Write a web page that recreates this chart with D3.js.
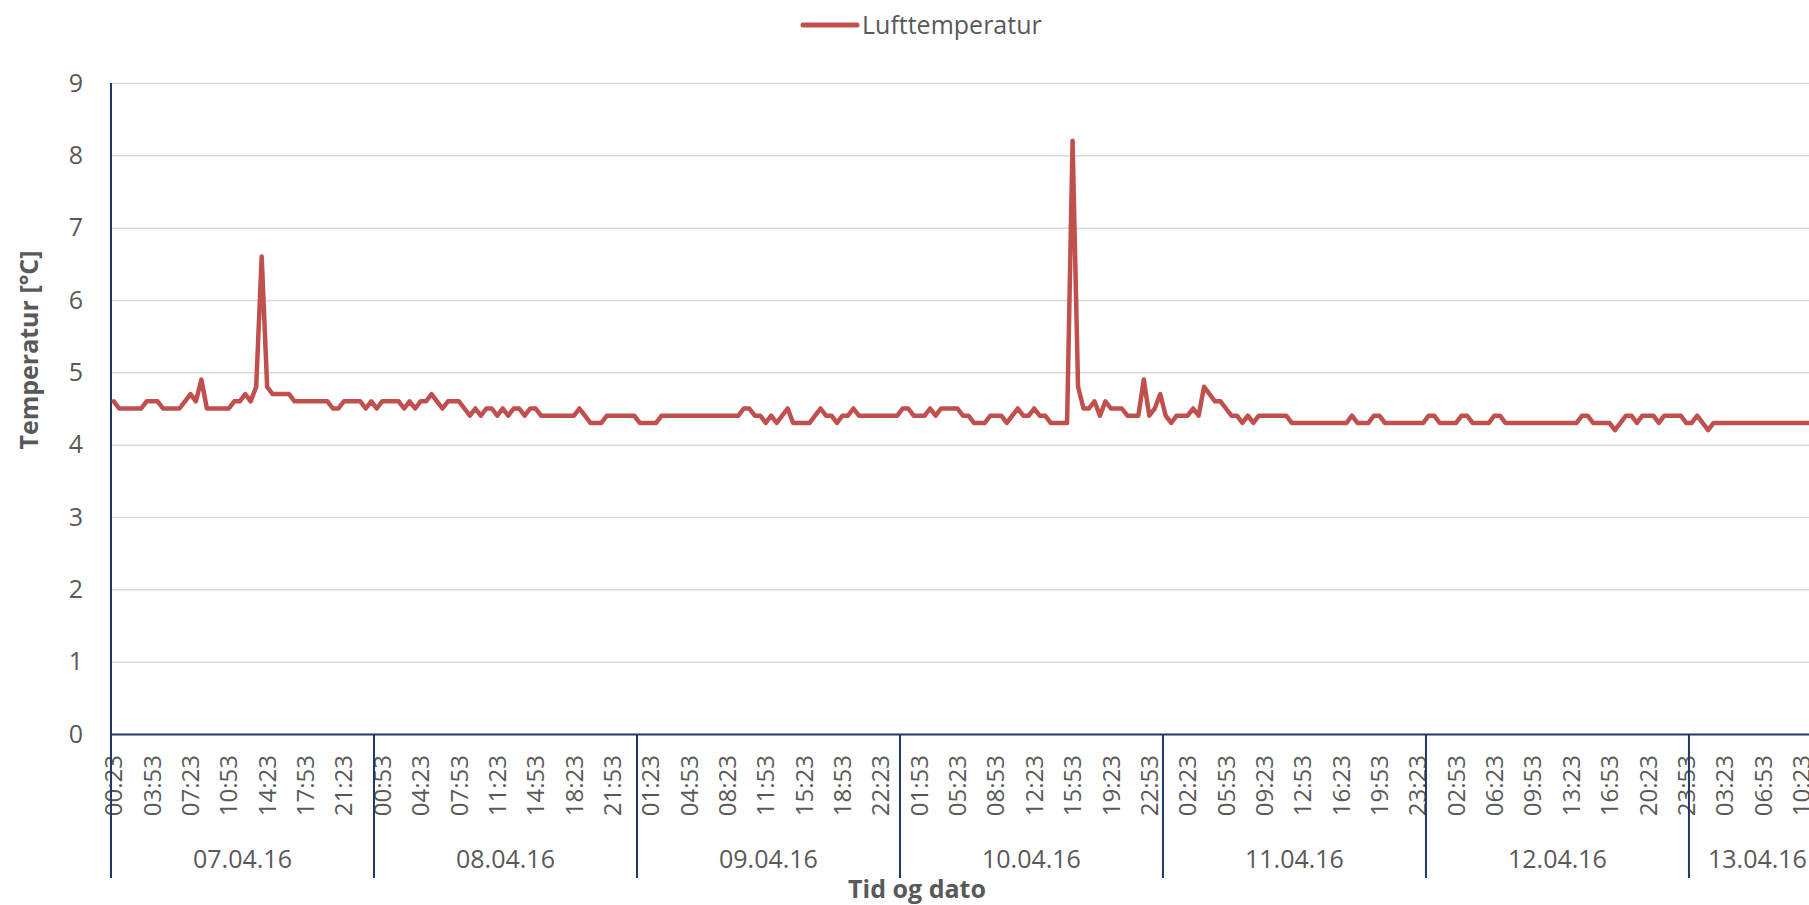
<!DOCTYPE html>
<html>
<head>
<meta charset="utf-8">
<script src="https://cdn.jsdelivr.net/npm/d3@7"></script>
<style>
  html, body { margin: 0; padding: 0; background: #fff; overflow: hidden; }
  svg { display: block; font-family: "Open Sans", sans-serif; }
</style>
</head>
<body>
<div id="chart"></div>
<script>
// one reading every 30 minutes, first at 00:23
const dates = ["07.04.16", "08.04.16", "09.04.16", "10.04.16", "11.04.16", "12.04.16", "13.04.16"];

const temp0704 = [4.6, 4.5, 4.5, 4.5, 4.5, 4.5, 4.6, 4.6, 4.6, 4.5, 4.5, 4.5, 4.5, 4.6, 4.7, 4.6,
  4.9, 4.5, 4.5, 4.5, 4.5, 4.5, 4.6, 4.6, 4.7, 4.6, 4.8, 6.6, 4.8, 4.7, 4.7, 4.7,
  4.7, 4.6, 4.6, 4.6, 4.6, 4.6, 4.6, 4.6, 4.5, 4.5, 4.6, 4.6, 4.6, 4.6, 4.5, 4.6];
const temp0804 = [4.5, 4.6, 4.6, 4.6, 4.6, 4.5, 4.6, 4.5, 4.6, 4.6, 4.7, 4.6, 4.5, 4.6, 4.6, 4.6,
  4.5, 4.4, 4.5, 4.4, 4.5, 4.5, 4.4, 4.5, 4.4, 4.5, 4.5, 4.4, 4.5, 4.5, 4.4, 4.4,
  4.4, 4.4, 4.4, 4.4, 4.4, 4.5, 4.4, 4.3, 4.3, 4.3, 4.4, 4.4, 4.4, 4.4, 4.4, 4.4];
const temp0904 = [4.3, 4.3, 4.3, 4.3, 4.4, 4.4, 4.4, 4.4, 4.4, 4.4, 4.4, 4.4, 4.4, 4.4, 4.4, 4.4,
  4.4, 4.4, 4.4, 4.5, 4.5, 4.4, 4.4, 4.3, 4.4, 4.3, 4.4, 4.5, 4.3, 4.3, 4.3, 4.3,
  4.4, 4.5, 4.4, 4.4, 4.3, 4.4, 4.4, 4.5, 4.4, 4.4, 4.4, 4.4, 4.4, 4.4, 4.4, 4.4];
const temp1004 = [4.5, 4.5, 4.4, 4.4, 4.4, 4.5, 4.4, 4.5, 4.5, 4.5, 4.5, 4.4, 4.4, 4.3, 4.3, 4.3,
  4.4, 4.4, 4.4, 4.3, 4.4, 4.5, 4.4, 4.4, 4.5, 4.4, 4.4, 4.3, 4.3, 4.3, 4.3, 8.2,
  4.8, 4.5, 4.5, 4.6, 4.4, 4.6, 4.5, 4.5, 4.5, 4.4, 4.4, 4.4, 4.9, 4.4, 4.5, 4.7];
const temp1104 = [4.4, 4.3, 4.4, 4.4, 4.4, 4.5, 4.4, 4.8, 4.7, 4.6, 4.6, 4.5, 4.4, 4.4, 4.3, 4.4,
  4.3, 4.4, 4.4, 4.4, 4.4, 4.4, 4.4, 4.3, 4.3, 4.3, 4.3, 4.3, 4.3, 4.3, 4.3, 4.3,
  4.3, 4.3, 4.4, 4.3, 4.3, 4.3, 4.4, 4.4, 4.3, 4.3, 4.3, 4.3, 4.3, 4.3, 4.3, 4.3];
const temp1204 = [4.4, 4.4, 4.3, 4.3, 4.3, 4.3, 4.4, 4.4, 4.3, 4.3, 4.3, 4.3, 4.4, 4.4, 4.3, 4.3,
  4.3, 4.3, 4.3, 4.3, 4.3, 4.3, 4.3, 4.3, 4.3, 4.3, 4.3, 4.3, 4.4, 4.4, 4.3, 4.3,
  4.3, 4.3, 4.2, 4.3, 4.4, 4.4, 4.3, 4.4, 4.4, 4.4, 4.3, 4.4, 4.4, 4.4, 4.4, 4.3];
const temp1304 = [4.3, 4.4, 4.3, 4.2, 4.3, 4.3, 4.3, 4.3, 4.3, 4.3, 4.3, 4.3, 4.3, 4.3, 4.3, 4.3,
  4.3, 4.3, 4.3, 4.3, 4.3, 4.3, 4.3, 4.3, 4.3];

const dailyTemps = [temp0704, temp0804, temp0904, temp1004, temp1104, temp1204, temp1304];

// every 7th reading gets a label
const tickLabels = ["00:23", "03:53", "07:23", "10:53", "14:23", "17:53", "21:23",
  "00:53", "04:23", "07:53", "11:23", "14:53", "18:23", "21:53",
  "01:23", "04:53", "08:23", "11:53", "15:23", "18:53", "22:23",
  "01:53", "05:23", "08:53", "12:23", "15:53", "19:23", "22:53",
  "02:23", "05:53", "09:23", "12:53", "16:23", "19:53", "23:23",
  "02:53", "06:23", "09:53", "13:23", "16:53", "20:23", "23:53",
  "03:23", "06:53", "10:23"];
const yTicks = [0, 1, 2, 3, 4, 5, 6, 7, 8, 9];

const width = 1809, height = 905;
const textColor = "#595959", axisColor = "#203864", lineColor = "#C0504D";

const points = [];
dailyTemps.forEach((temps, di) => {
  temps.forEach((v, j) => {
    const m = 23 + 30 * j;
    const t = String(Math.floor(m / 60)).padStart(2, "0") + ":" + String(m % 60).padStart(2, "0");
    points.push({ key: dates[di] + " " + t, day: dates[di], value: v });
  });
});

const plotLeft = 111, plotTop = 83, plotBottom = 734;
const step = 5.479;

const x = d3.scaleBand()
  .domain(points.map(d => d.key))
  .range([plotLeft, plotLeft + points.length * step]);

const y = d3.scaleLinear().domain([0, 9]).range([plotBottom, plotTop]);

const svg = d3.select("#chart").append("svg")
  .attr("width", width)
  .attr("height", height);

// gridlines
svg.append("g")
  .attr("transform", `translate(${plotLeft},0)`)
  .call(d3.axisLeft(y).tickValues(yTicks.slice(1)).tickSize(-(x.range()[1] - plotLeft)).tickFormat(""))
  .call(g => g.select(".domain").remove())
  .selectAll("line")
  .attr("stroke", "#d9d9d9")
  .attr("stroke-width", 1.5);

// y labels
svg.append("g")
  .attr("transform", `translate(${plotLeft},0)`)
  .call(d3.axisLeft(y).tickValues(yTicks).tickSize(0).tickPadding(28))
  .call(g => g.select(".domain").remove())
  .selectAll("text")
  .attr("fill", textColor)
  .style("font-size", "25px")
  .style("font-family", "Open Sans");

// x axis with time labels
const tickKeys = points.filter((d, i) => i % 7 === 0).map(d => d.key);
const labelOf = new Map(tickKeys.map((k, i) => [k, tickLabels[i]]));

const xAxis = svg.append("g")
  .attr("transform", `translate(0,${plotBottom})`)
  .call(d3.axisBottom(x).tickValues(tickKeys).tickSize(0).tickSizeOuter(0).tickFormat(k => labelOf.get(k)));
xAxis.select(".domain").attr("stroke", axisColor).attr("stroke-width", 2);
xAxis.selectAll("text")
  .attr("transform", "rotate(-90)")
  .attr("x", -21)
  .attr("y", 0)
  .attr("dy", "0.36em")
  .attr("text-anchor", "end")
  .attr("fill", textColor)
  .style("font-size", "24px")
  .style("font-family", "Open Sans");

// day groups
const dayGroups = d3.groups(points, d => d.day).map(([day, pts]) => ({
  day,
  x0: x(pts[0].key),
  x1: x(pts[pts.length - 1].key) + x.bandwidth()
}));

svg.append("g").selectAll("line")
  .data(dayGroups)
  .join("line")
  .attr("x1", d => d.x0)
  .attr("x2", d => d.x0)
  .attr("y1", (d, i) => i === 0 ? plotTop : plotBottom)
  .attr("y2", 878)
  .attr("stroke", axisColor)
  .attr("stroke-width", 2);

svg.append("g").selectAll("text")
  .data(dayGroups)
  .join("text")
  .attr("x", d => (d.x0 + d.x1) / 2)
  .attr("y", 859)
  .attr("dy", "0.36em")
  .attr("text-anchor", "middle")
  .attr("fill", textColor)
  .style("font-size", "25px")
  .text(d => d.day);

// the series
const line = d3.line()
  .x(d => x(d.key) + x.bandwidth() / 2)
  .y(d => y(d.value));

svg.append("path")
  .datum(points)
  .attr("d", line)
  .attr("fill", "none")
  .attr("stroke", lineColor)
  .attr("stroke-width", 4.5)
  .attr("stroke-linejoin", "round")
  .attr("stroke-linecap", "round");

// legend
svg.append("line")
  .attr("x1", 803).attr("x2", 857)
  .attr("y1", 25).attr("y2", 25)
  .attr("stroke", lineColor)
  .attr("stroke-width", 5)
  .attr("stroke-linecap", "round");
svg.append("text")
  .attr("x", 862)
  .attr("y", 25)
  .attr("dy", "0.36em")
  .attr("fill", textColor)
  .style("font-size", "25px")
  .text("Lufttemperatur");

// axis titles
svg.append("text")
  .attr("transform", "translate(29,350) rotate(-90)")
  .attr("dy", "0.36em")
  .attr("text-anchor", "middle")
  .attr("fill", textColor)
  .style("font-size", "25px")
  .style("font-weight", "bold")
  .text("Temperatur [°C]");

svg.append("text")
  .attr("x", 917)
  .attr("y", 889)
  .attr("dy", "0.36em")
  .attr("text-anchor", "middle")
  .attr("fill", textColor)
  .style("font-size", "25px")
  .style("font-weight", "bold")
  .text("Tid og dato");
</script>
</body>
</html>
